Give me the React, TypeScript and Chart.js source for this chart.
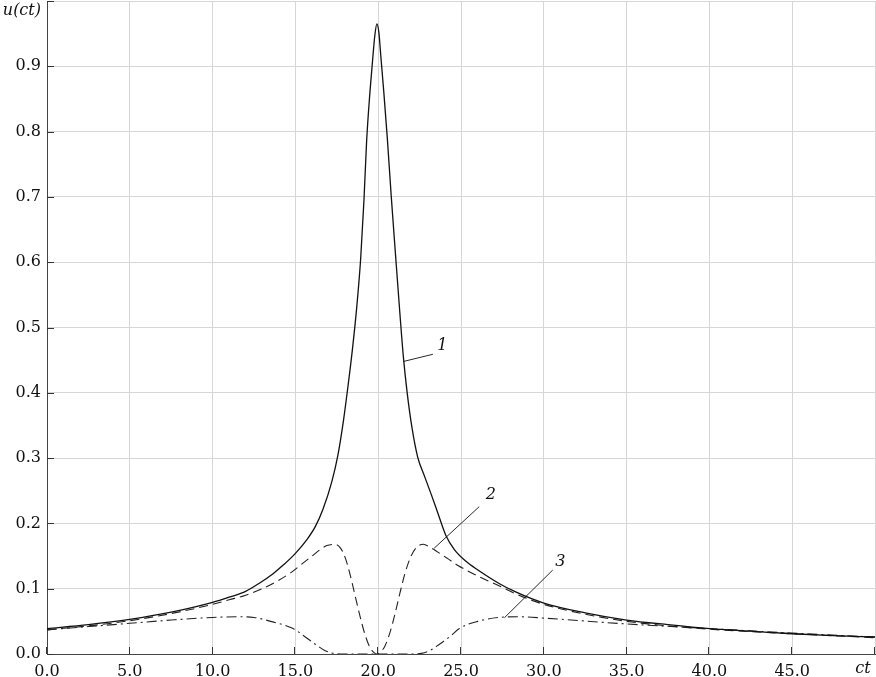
import React, { useEffect, useRef } from "react";
import { Chart, registerables } from "chart.js";

Chart.register(...registerables);

// Curve 1 (solid)
const curve1X = [0, 2.5, 5, 7.5, 10, 11, 12, 12.8, 13.65, 14.3, 14.96, 15.66, 16.2, 16.67, 17.2, 17.57, 17.9, 18.2, 18.45, 18.7, 18.94, 19.14, 19.3, 19.5, 19.68, 19.8, 19.92, 20.04, 20.16, 20.34, 20.55, 20.79, 21.05, 21.3, 21.52, 21.75, 22.05, 22.38, 22.8, 23.18, 23.6, 24.08, 24.6, 25.3, 26.0, 27.3, 28.3, 30, 32.5, 35, 37.5, 40, 42.5, 45, 47.5, 50];
const curve1Y = [0.039, 0.045, 0.053, 0.064, 0.079, 0.087, 0.096, 0.108, 0.123, 0.137, 0.153, 0.174, 0.195, 0.222, 0.264, 0.305, 0.357, 0.415, 0.468, 0.53, 0.605, 0.695, 0.785, 0.86, 0.915, 0.948, 0.965, 0.952, 0.915, 0.86, 0.79, 0.70, 0.61, 0.525, 0.455, 0.4, 0.345, 0.302, 0.272, 0.246, 0.216, 0.182, 0.16, 0.142, 0.129, 0.108, 0.095, 0.078, 0.063, 0.052, 0.045, 0.039, 0.035, 0.031, 0.028, 0.026];

// Curve 2 (dashed)
const curve2X = [0, 2.5, 5, 7.5, 10, 11, 12, 13, 14, 14.75, 15.4, 16, 16.5, 16.9, 17.37, 17.7, 18.0, 18.3, 18.6, 18.9, 19.2, 19.5, 19.75, 19.92, 20.1, 20.4, 20.7, 21.0, 21.3, 21.6, 21.95, 22.3, 22.72, 23.1, 23.6, 24.2, 24.79, 25.5, 26.2, 27, 28.5, 30, 32.5, 35, 37.5, 40, 45, 50];
const curve2Y = [0.037, 0.043, 0.051, 0.062, 0.076, 0.083, 0.09, 0.1, 0.113, 0.125, 0.138, 0.15, 0.16, 0.166, 0.168, 0.163, 0.148, 0.122, 0.09, 0.058, 0.03, 0.01, 0.002, 0, 0.002, 0.012, 0.032, 0.06, 0.092, 0.122, 0.148, 0.163, 0.168, 0.164, 0.156, 0.146, 0.136, 0.126, 0.117, 0.108, 0.09, 0.076, 0.061, 0.05, 0.043, 0.038, 0.031, 0.025];

// Curve 3 (dash-dot)
const curve3X = [0, 2.5, 5, 7.5, 10, 11.5, 12.5, 13.5, 14.86, 15.5, 16.2, 16.8, 17.3, 18, 22, 22.6, 23.1, 23.7, 24.4, 24.9, 26, 27.3, 28.5, 30, 35, 40, 45, 50];
const curve3Y = [0.037, 0.042, 0.047, 0.052, 0.056, 0.057, 0.056, 0.05, 0.039, 0.028, 0.015, 0.005, 0.001, 0, 0, 0.001, 0.005, 0.015, 0.028, 0.039, 0.05, 0.056, 0.057, 0.055, 0.046, 0.039, 0.032, 0.026];

// Axis ticks
const xTickValues = [0, 5, 10, 15, 20, 25, 30, 35, 40, 45, 50];
const xTickLabels = ["0.0", "5.0", "10.0", "15.0", "20.0", "25.0", "30.0", "35.0", "40.0", "45.0", "ct"];
const yTickValues = [0, 0.1, 0.2, 0.3, 0.4, 0.5, 0.6, 0.7, 0.8, 0.9, 1.0];
const yTickLabels = ["0.0", "0.1", "0.2", "0.3", "0.4", "0.5", "0.6", "0.7", "0.8", "0.9", "u(ct)"];

// Curve labels with leader lines (data coordinates)
const curveLabels = ["1", "2", "3"];
const labelX = [23.87, 26.8, 31.0];
const labelY = [0.472, 0.2435, 0.141];
const leaderFromX = [23.3, 26.1, 30.54];
const leaderFromY = [0.459, 0.2256, 0.1286];
const leaderToX = [21.53, 23.38, 27.62];
const leaderToY = [0.448, 0.162, 0.0555];

const FONT = "'DejaVu Serif', serif";

function toPoints(xs: number[], ys: number[]) {
  return xs.map((x, i) => ({ x, y: ys[i] }));
}

const decorPlugin = {
  id: "decor",
  afterDraw(chart: any) {
    const { ctx, chartArea, scales } = chart;
    const xs = scales.x;
    const ys = scales.y;
    ctx.save();
    // inward tick marks
    ctx.strokeStyle = "#333";
    ctx.lineWidth = 1;
    ctx.beginPath();
    xTickValues.forEach((v) => {
      const px = Math.round(xs.getPixelForValue(v)) - 0.5;
      ctx.moveTo(px, chartArea.bottom);
      ctx.lineTo(px, chartArea.bottom - 7);
    });
    yTickValues.forEach((v) => {
      const py = Math.round(ys.getPixelForValue(v)) + 0.5;
      ctx.moveTo(chartArea.left, py);
      ctx.lineTo(chartArea.left + 7, py);
    });
    ctx.stroke();

    // special axis labels
    ctx.fillStyle = "#111";
    ctx.font = `italic 16px ${FONT}`;
    ctx.textBaseline = "middle";
    ctx.textAlign = "right";
    ctx.fillText(yTickLabels[yTickLabels.length - 1], chartArea.left - 6, 11);
    ctx.textAlign = "center";
    ctx.fillText(xTickLabels[xTickLabels.length - 1], 863, 669);

    // curve labels and leaders
    ctx.strokeStyle = "#111";
    ctx.lineWidth = 0.9;
    curveLabels.forEach((t, i) => {
      ctx.beginPath();
      ctx.moveTo(xs.getPixelForValue(leaderFromX[i]), ys.getPixelForValue(leaderFromY[i]));
      ctx.lineTo(xs.getPixelForValue(leaderToX[i]), ys.getPixelForValue(leaderToY[i]));
      ctx.stroke();
      ctx.fillText(t, xs.getPixelForValue(labelX[i]), ys.getPixelForValue(labelY[i]));
    });
    ctx.restore();
  },
};

export default function App() {
  const ref = useRef<HTMLCanvasElement | null>(null);
  useEffect(() => {
    if (!ref.current) return;
    const chart = new Chart(ref.current, {
      type: "line",
      data: {
        datasets: [
          {
            label: "1",
            data: toPoints(curve1X, curve1Y),
            borderColor: "#111",
            borderWidth: 1.3,
            pointRadius: 0,
            cubicInterpolationMode: "monotone",
            fill: false,
          },
          {
            label: "2",
            data: toPoints(curve2X, curve2Y),
            borderColor: "#222",
            borderWidth: 1.1,
            borderDash: [9, 5],
            pointRadius: 0,
            cubicInterpolationMode: "monotone",
            fill: false,
          },
          {
            label: "3",
            data: toPoints(curve3X, curve3Y),
            borderColor: "#222",
            borderWidth: 1.1,
            borderDash: [10, 4, 2, 4],
            pointRadius: 0,
            cubicInterpolationMode: "monotone",
            fill: false,
          },
        ],
      },
      options: {
        responsive: false,
        animation: false,
        layout: { padding: { top: 1, right: 1, left: 0, bottom: 0 } },
        plugins: {
          legend: { display: false },
          tooltip: { enabled: false },
        },
        scales: {
          x: {
            type: "linear",
            min: 0,
            max: 50,
            afterFit: (s: any) => {
              s.height = 23;
              s.paddingLeft = 0;
              s.paddingRight = 0;
            },
            afterBuildTicks: (s: any) => {
              s.ticks = xTickValues.map((v) => ({ value: v }));
            },
            ticks: {
              padding: 8,
              color: "#111",
              maxRotation: 0,
              autoSkip: false,
              font: { family: FONT, size: 16 },
              callback: (v: any) => {
                const i = xTickValues.indexOf(Number(v));
                return i === xTickValues.length - 1 ? "" : xTickLabels[i];
              },
            },
            grid: { color: "#d6d6d6", lineWidth: 1, drawTicks: false },
            border: { color: "#444", width: 1 },
          },
          y: {
            type: "linear",
            min: 0,
            max: 1,
            afterFit: (s: any) => {
              s.width = 47;
              s.paddingTop = 0;
              s.paddingBottom = 0;
            },
            afterBuildTicks: (s: any) => {
              s.ticks = yTickValues.map((v) => ({ value: v }));
            },
            ticks: {
              padding: 6,
              color: "#111",
              autoSkip: false,
              font: { family: FONT, size: 16 },
              callback: (v: any) => {
                const i = yTickValues.findIndex((t) => Math.abs(t - Number(v)) < 1e-6);
                return i === yTickValues.length - 1 || i < 0 ? "" : yTickLabels[i];
              },
            },
            grid: { color: "#d6d6d6", lineWidth: 1, drawTicks: false },
            border: { color: "#444", width: 1 },
          },
        },
      },
      plugins: [decorPlugin],
    });
    return () => chart.destroy();
  }, []);
  return (
    <div style={{ position: "absolute", left: 0, top: 0, width: 876, height: 677, background: "#fff" }}>
      <canvas ref={ref} width={876} height={677} style={{ display: "block" }} />
    </div>
  );
}
